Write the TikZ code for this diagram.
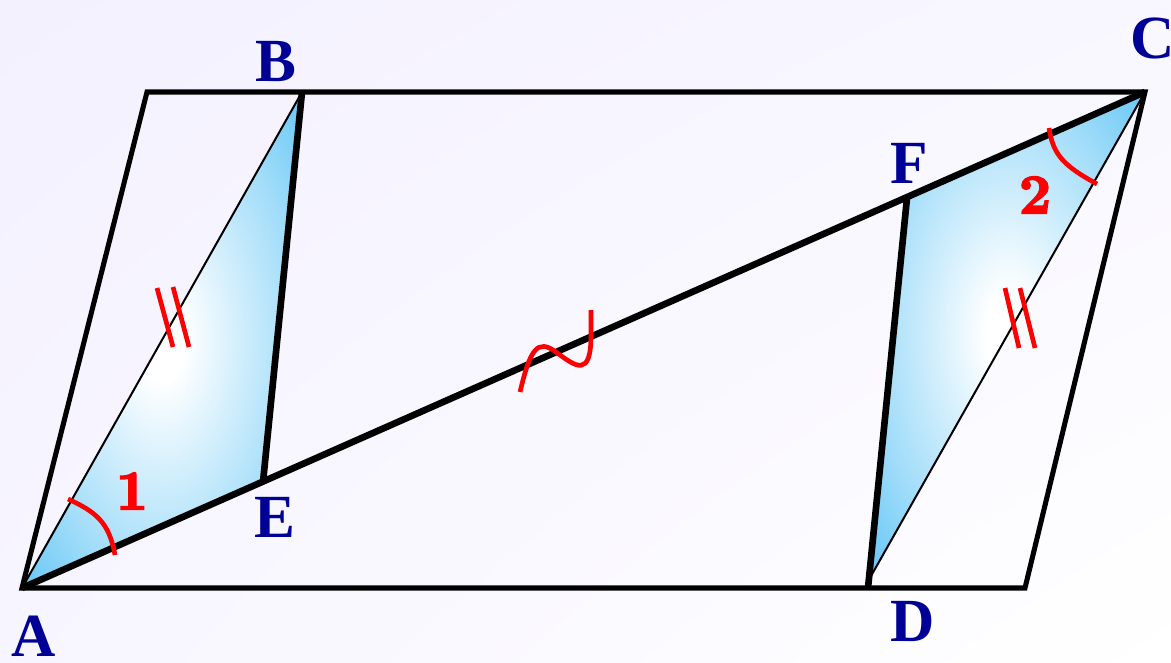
\documentclass[tikz,border=0pt]{standalone}
\usepackage{fontspec}
\usetikzlibrary{shadings}
\newfontfamily\labfont{Liberation Serif}
\newfontfamily\numfont{lmroman10-bold.otf}[FakeBold=3]
\definecolor{bgl}{RGB}{244,241,255}
\definecolor{skyb}{RGB}{105,200,246}
\definecolor{labblue}{RGB}{0,0,150}
\definecolor{markred}{RGB}{255,0,0}
\pgfdeclareradialshading{trishade}{\pgfpoint{0bp}{0bp}}{color(0bp)=(white); color(4bp)=(white); color(24bp)=(skyb!62!white); color(35bp)=(skyb); color(50bp)=(skyb)}
\tikzset{
  thinedge/.style={line width=1.5pt},
  thickedge/.style={line width=5pt},
  frame/.style={line width=3.8pt, line join=miter},
  redmark/.style={markred, line width=3.5pt},
  ptlabel/.style={labblue, font=\labfont\bfseries\fontsize{46}{46}\selectfont, inner sep=0pt},
  numlabel/.style={markred, font=\numfont\fontsize{42}{42}\selectfont, inner sep=0pt},
  tri/.style={shading=trishade}
}
\begin{document}
\begin{tikzpicture}[x=0.75pt,y=-0.75pt]
\useasboundingbox (0,0) rectangle (1171,663);
\shade[upper left=bgl, upper right=bgl!60!white, lower left=bgl!70!white, lower right=white] (0,0) rectangle (1171,663);
% points
\coordinate (A) at (22,588);
\coordinate (B) at (302,92);
\coordinate (C) at (1145,92);
\coordinate (TL) at (147,92);
\coordinate (BR) at (1025,588);
\coordinate (E) at (263,482);
\coordinate (F) at (907,198);
\coordinate (D) at (871,576);
\coordinate (Dbase) at (868,588);
% shaded triangles
\shade[tri] (A) -- (B) -- (E) -- cycle;
\shade[tri] (C) -- (F) -- (D) -- cycle;
% thin diagonals
\draw[thinedge] (A) -- (B);
\draw[thinedge] (C) -- (D);
% frame
\draw[frame] (A) -- (TL) -- (C) -- (BR) -- cycle;
% thick segments
\draw[thickedge] (A) -- (C);
\draw[thickedge] (B) -- (E);
\draw[thickedge] (F) -- (Dbase);
% red marks
\draw[redmark] (68,499) .. controls (96,512) and (109,522) .. (115,555);
\draw[redmark] (1049,128) .. controls (1053,155) and (1064,166) .. (1097,184);
\draw[redmark] (157,288) -- (173,347);
\draw[redmark] (173,287) -- (189,347);
\draw[redmark] (1005,288) -- (1019,348);
\draw[redmark] (1020,288) -- (1035,348);
\draw[redmark] (520,392) .. controls (530,350) and (537,338) .. (556,352) .. controls (576,367) and (591,378) .. (591,335) -- (591,310);
% labels
\node[ptlabel] (lA) at (34,636) {A};
\node[ptlabel] (lB) at (276,62) {B};
\node[ptlabel] (lC) at (1153,38) {C};
\node[ptlabel] (lD) at (913,621) {D};
\node[ptlabel] (lE) at (275,517) {E};
\node[ptlabel] (lF) at (909,163) {F};
\node[numlabel] (n1) at (132,491) {1};
\node[numlabel] (n2) at (1035,195) {2};
\end{tikzpicture}
\end{document}
